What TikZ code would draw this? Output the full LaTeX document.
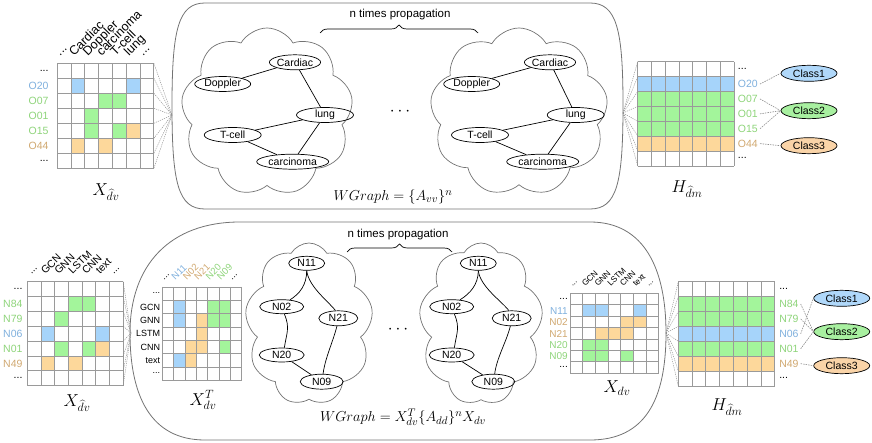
\documentclass[tikz,border=0pt]{standalone}
\usepackage[no-math]{fontspec}
\setmainfont{Liberation Sans}
\usetikzlibrary{shapes.symbols,shapes.geometric,decorations.pathreplacing}
\definecolor{cblue}{HTML}{A6D4FA}
\definecolor{cgreen}{HTML}{A3F59B}
\definecolor{corange}{HTML}{FDD89B}
\definecolor{tblue}{HTML}{7FB0DD}
\definecolor{tgreen}{HTML}{8ED47A}
\definecolor{torange}{HTML}{D0A870}
\definecolor{gridc}{HTML}{9A9A9A}
\definecolor{clsone}{HTML}{B0D8FA}
\definecolor{clstwo}{HTML}{A8F0A0}
\definecolor{clsthree}{HTML}{FAD4A8}
\newcommand\mydots{\raisebox{3.5pt}[0pt][0pt]{...}}
\newcommand\mydotsc{...}
\newcommand\mygridlines{\foreach \i in {0,...,7}{\draw[gridline] (\i,0) -- (\i,7); \draw[gridline] (0,\i) -- (7,\i);}}
\newcommand\cfill[3]{\fill[#1] (#2,#3) rectangle ++(1,1);}
\tikzset{
 gridline/.style={draw=gridc, line width=0.9pt},
 fan/.style={draw=black!45, dash pattern=on 1.2pt off 1pt, line width=0.45pt},
 cdash/.style={draw=black!45, dash pattern=on 1.5pt off 1pt, line width=0.6pt},
 container/.style={draw=black!55, line width=0.8pt},
 cloudshape/.style={cloud, cloud puffs=9, cloud puff arc=120, cloud ignores aspect, draw=black!55, line width=0.7pt, inner sep=0pt},
 gnode/.style={ellipse, draw, line width=0.7pt, inner sep=0pt, minimum height=15pt, font=\fontsize{10.5}{12}\selectfont},
 gedge/.style={line width=0.7pt},
 classnode/.style={ellipse, draw, line width=0.7pt, minimum width=56pt, minimum height=16pt, inner sep=0pt, font=\fontsize{10.5}{12}\selectfont},
 mathlbl/.style={font=\fontsize{18.5}{22}\selectfont, inner sep=0pt},
 eqlbl/.style={font=\fontsize{15}{18}\selectfont, inner sep=0pt},
 proplbl/.style={font=\fontsize{11.5}{14}\selectfont, inner sep=0pt},
 rowlab/.style={anchor=east, inner sep=0pt, text height=7.5pt, text depth=0pt},
 rowlabw/.style={anchor=west, inner sep=0pt, text height=7.5pt, text depth=0pt},
 collab/.style={rotate=45, anchor=base west, inner sep=0pt},
 bracestyle/.style={decorate, decoration={brace, amplitude=8pt}, line width=0.7pt},
}
\begin{document}
\begin{tikzpicture}[x=1pt,y=-1pt]
\useasboundingbox (0,0) rectangle (872,443);

% ---------------- containers ----------------
\draw[container] (205,3) -- (590,3) .. controls (617,3) and (623,30) .. (623,106) .. controls (623,183) and (617,209) .. (590,209) -- (205,209) .. controls (178,209) and (172,183) .. (172,106) .. controls (172,30) and (178,3) .. (205,3) -- cycle;
\draw[container] (240,222) -- (590,222) .. controls (645,222) and (666,270) .. (666,333) .. controls (666,400) and (645,440) .. (590,440) -- (205,440) .. controls (150,440) and (130,395) .. (130,333) .. controls (130,265) and (170,222) .. (240,222) -- cycle;

\coordinate (tlc) at (172,115);
\coordinate (trc) at (623,113);
\coordinate (blc) at (131,333);
\coordinate (brc) at (666,333);

% ---------------- top-left matrix ----------------
\begin{scope}[shift={(57.3,63.3)},x=13.8pt,y=-15pt]
 \cfill{cblue}{1}{1}\cfill{cblue}{5}{1}
 \cfill{cgreen}{3}{2}\cfill{cgreen}{4}{2}\cfill{cgreen}{2}{3}\cfill{cgreen}{2}{4}\cfill{cgreen}{4}{4}
 \cfill{corange}{5}{4}\cfill{corange}{1}{5}\cfill{corange}{3}{5}
 \mygridlines
 \foreach \t/\c [count=\r from 0] in {\mydots/black, O20/tblue, O07/tgreen, O01/tgreen, O15/tgreen, O44/torange, \mydots/black}
   \node[rowlab, text=\c, font=\fontsize{10.5}{12}\selectfont] at (-0.62,\r+0.5) {\t};
 \foreach \t [count=\c from 0] in {\mydotsc, Cardiac, Doppler, carcinoma, T-cell, lung, \mydotsc}
   \node[collab, font=\fontsize{12.5}{14}\selectfont] at (\c+0.2,-0.45) {\t};
 \foreach \i in {0,...,7} \draw[fan] (7,\i) -- (tlc);
\end{scope}
\node[mathlbl] (xl1) at (106,192) {$X_{\widehat{d}v}$};

% ---------------- top-right matrix ----------------
\begin{scope}[shift={(637.7,61.7)},x=13.8pt,y=-14.9pt]
 \fill[cblue] (0,1) rectangle (7,2);
 \fill[cgreen] (0,2) rectangle (7,5);
 \fill[corange] (0,5) rectangle (7,6);
 \mygridlines
 \node[rowlabw, font=\fontsize{10.5}{12}\selectfont] (tD1) at (7.25,0.5) {\mydots};
 \node[rowlabw, text=tblue, font=\fontsize{10.5}{12}\selectfont] (tO20) at (7.25,1.5) {O20};
 \node[rowlabw, text=tgreen, font=\fontsize{10.5}{12}\selectfont] (tO07) at (7.25,2.5) {O07};
 \node[rowlabw, text=tgreen, font=\fontsize{10.5}{12}\selectfont] (tO01) at (7.25,3.5) {O01};
 \node[rowlabw, text=tgreen, font=\fontsize{10.5}{12}\selectfont] (tO15) at (7.25,4.5) {O15};
 \node[rowlabw, text=torange, font=\fontsize{10.5}{12}\selectfont] (tO44) at (7.25,5.5) {O44};
 \node[rowlabw, font=\fontsize{10.5}{12}\selectfont] (tD2) at (7.25,6.5) {\mydots};
 \foreach \i in {0,...,7} \draw[fan] (trc) -- (0,\i);
\end{scope}
\node[mathlbl] (hl1) at (687,189) {$H_{\widehat{d}m}$};
\node[classnode, fill=clsone] (tc1) at (809,73.3) {Class1};
\node[classnode, fill=clstwo] (tc2) at (809,110.7) {Class2};
\node[classnode, fill=clsthree] (tc3) at (809,145.7) {Class3};
\draw[cdash] ([xshift=2pt]tO20.east) -- (tc1.west);
\draw[cdash] ([xshift=2pt]tO07.east) -- (tc2.west);
\draw[cdash] ([xshift=2pt]tO01.east) -- (tc2.west);
\draw[cdash] ([xshift=2pt]tO15.east) -- (tc2.west);
\draw[cdash] ([xshift=2pt]tO44.east) -- (tc3.west);

% ---------------- top graphs ----------------
\node[cloudshape, minimum width=172pt, minimum height=168pt] (cloudA) at (267,112) {};
\node[cloudshape, minimum width=178pt, minimum height=168pt] (cloudB) at (519,112) {};
\node[gnode, minimum width=56pt] (dopA) at (222.7,84) {Doppler};
\node[gnode, minimum width=48pt] (carA) at (295,62.3) {Cardiac};
\node[gnode, minimum width=57pt] (lunA) at (325,115) {lung};
\node[gnode, minimum width=57pt] (tceA) at (232.7,135) {T-cell};
\node[gnode, minimum width=72pt] (crcA) at (292.7,161.7) {carcinoma};
\draw[gedge] (dopA) -- (carA);
\draw[gedge] (carA) -- (lunA);
\draw[gedge] (lunA) -- (tceA);
\draw[gedge] (tceA) -- (crcA);
\draw[gedge] (crcA) -- (lunA);
\node[gnode, minimum width=56pt] (dopB) at (471.7,84) {Doppler};
\node[gnode, minimum width=48pt] (carB) at (550,62.3) {Cardiac};
\node[gnode, minimum width=57pt] (lunB) at (575.7,115) {lung};
\node[gnode, minimum width=57pt] (tceB) at (480,135) {T-cell};
\node[gnode, minimum width=72pt] (crcB) at (542.7,161.7) {carcinoma};
\draw[gedge] (dopB) -- (carB);
\draw[gedge] (carB) -- (lunB);
\draw[gedge] (lunB) -- (tceB);
\draw[gedge] (tceB) -- (crcB);
\draw[gedge] (crcB) -- (lunB);
\node[font=\fontsize{18}{20}\selectfont] (dotsT) at (400,112) {$\cdots$};
\coordinate (braceAs) at (320,33);
\coordinate (braceAe) at (478,33);
\draw[bracestyle] (braceAs) -- (braceAe);
\node[proplbl] (propA) at (400,15) {n times propagation};
\node[eqlbl] (eqA) at (393,197) {$WGraph=\{A_{vv}\}^{n}$};

% ---------------- bottom-left matrix ----------------
\begin{scope}[shift={(27.3,281.7)},x=13.7pt,y=-14.86pt]
 \cfill{cgreen}{3}{1}\cfill{cgreen}{4}{1}\cfill{cgreen}{2}{2}\cfill{cgreen}{2}{4}\cfill{cgreen}{4}{4}
 \cfill{cblue}{1}{3}\cfill{cblue}{5}{3}
 \cfill{corange}{5}{4}\cfill{corange}{1}{5}\cfill{corange}{3}{5}
 \mygridlines
 \foreach \t/\c [count=\r from 0] in {\mydots/black, N84/tgreen, N79/tgreen, N06/tblue, N01/tgreen, N49/torange, \mydots/black}
   \node[rowlab, text=\c, font=\fontsize{10.5}{12}\selectfont] at (-0.34,\r+0.5) {\t};
 \foreach \t [count=\c from 0] in {\mydotsc, GCN, GNN, LSTM, CNN, text, \mydotsc}
   \node[collab, font=\fontsize{10.5}{12}\selectfont] at (\c+0.3,-0.45) {\t};
 \foreach \i in {0,...,7} \draw[fan] (7,\i) -- (blc);
\end{scope}
\node[mathlbl] (xl2) at (77,403) {$X_{\widehat{d}v}$};

% ---------------- X^T matrix ----------------
\begin{scope}[shift={(162.3,287)},x=11.34pt,y=-13.33pt]
 \cfill{cblue}{1}{1}\cfill{cblue}{1}{2}\cfill{cblue}{1}{5}
 \cfill{cgreen}{4}{1}\cfill{cgreen}{5}{1}\cfill{cgreen}{4}{2}\cfill{cgreen}{5}{2}\cfill{cgreen}{5}{4}
 \cfill{corange}{3}{2}\cfill{corange}{3}{3}\cfill{corange}{2}{4}\cfill{corange}{3}{4}\cfill{corange}{2}{5}
 \mygridlines
 \foreach \t [count=\r from 0] in {\mydots, GCN, GNN, LSTM, CNN, text, \mydots}
   \node[rowlab, font=\fontsize{9}{10}\selectfont, text height=6.5pt] at (-0.18,\r+0.5) {\t};
 \foreach \t/\c [count=\k from 0] in {\mydotsc/black, N11/tblue, N02/torange, N21/torange, N20/tgreen, N09/tgreen, \mydotsc/black}
   \node[collab, text=\c, font=\fontsize{9.5}{11}\selectfont] at (\k+0.15,-0.5) {\t};
\end{scope}
\node[mathlbl] (xtl) at (203,400) {$X_{dv}^{T}$};

% ---------------- bottom graphs ----------------
\node[cloudshape, minimum width=128pt, minimum height=162pt] (cloudC) at (309,324) {};
\node[cloudshape, minimum width=124pt, minimum height=162pt] (cloudD) at (481,324) {};
\node[gnode, minimum width=36pt, minimum height=14pt] (n11A) at (306.7,263.3) {N11};
\node[gnode, minimum width=44pt, minimum height=14pt] (n02A) at (281.7,306.7) {N02};
\node[gnode, minimum width=39pt, minimum height=15pt] (n21A) at (338.3,318.3) {N21};
\node[gnode, minimum width=45pt, minimum height=14pt] (n20A) at (281.7,355) {N20};
\node[gnode, minimum width=43pt, minimum height=15pt] (n09A) at (321.7,381.7) {N09};
\draw[gedge] (n11A.south) .. controls +(0,14) and +(10,-6) .. (n02A.40);
\draw[gedge] (n11A.south) .. controls +(2,16) and +(-8,-10) .. (n21A.110);
\draw[gedge] (n02A.-70) .. controls +(6,14) and +(2,-14) .. (n20A.70);
\draw[gedge] (n21A.-100) .. controls +(-4,16) and +(2,-16) .. (n09A.80);
\draw[gedge] (n20A) -- (n09A);
\node[gnode, minimum width=36pt, minimum height=14pt] (n11B) at (478.3,263.3) {N11};
\node[gnode, minimum width=44pt, minimum height=14pt] (n02B) at (451.7,306.7) {N02};
\node[gnode, minimum width=39pt, minimum height=15pt] (n21B) at (511.7,318.3) {N21};
\node[gnode, minimum width=45pt, minimum height=14pt] (n20B) at (451.7,355) {N20};
\node[gnode, minimum width=43pt, minimum height=15pt] (n09B) at (493.3,381.7) {N09};
\draw[gedge] (n11B.south) .. controls +(0,14) and +(10,-6) .. (n02B.40);
\draw[gedge] (n11B.south) .. controls +(2,16) and +(-8,-10) .. (n21B.110);
\draw[gedge] (n02B.-70) .. controls +(6,14) and +(2,-14) .. (n20B.70);
\draw[gedge] (n21B.-100) .. controls +(-4,16) and +(2,-16) .. (n09B.80);
\draw[gedge] (n20B) -- (n09B);
\node[font=\fontsize{18}{20}\selectfont] (dotsB) at (398,330) {$\cdots$};
\coordinate (braceBs) at (347,252);
\coordinate (braceBe) at (452,252);
\draw[bracestyle] (braceBs) -- (braceBe);
\node[proplbl] (propB) at (398,235) {n times propagation};
\node[eqlbl] (eqB) at (403,417) {$WGraph=X_{dv}^{T}\{A_{dd}\}^{n}X_{dv}$};

% ---------------- X_dv matrix ----------------
\begin{scope}[shift={(570,293.3)},x=12.7pt,y=-11.43pt]
 \cfill{cblue}{1}{1}\cfill{cblue}{2}{1}\cfill{cblue}{5}{1}
 \cfill{corange}{4}{2}\cfill{corange}{5}{2}\cfill{corange}{2}{3}\cfill{corange}{3}{3}\cfill{corange}{4}{3}
 \cfill{cgreen}{1}{4}\cfill{cgreen}{2}{4}\cfill{cgreen}{1}{5}\cfill{cgreen}{2}{5}\cfill{cgreen}{4}{5}
 \mygridlines
 \foreach \t/\c [count=\r from 0] in {\mydots/black, N11/tblue, N02/torange, N21/torange, N20/tgreen, N09/tgreen, \mydots/black}
   \node[rowlab, text=\c, font=\fontsize{10}{12}\selectfont] at (-0.16,\r+0.5) {\t};
 \foreach \t [count=\k from 0] in {\mydotsc, GCN, GNN, LSTM, CNN, text, \mydotsc}
   \node[collab, font=\fontsize{8.3}{10}\selectfont] at (\k+0.2,-0.55) {\t};
\end{scope}
\node[mathlbl] (xl3) at (617,388) {$X_{dv}$};

% ---------------- bottom-right matrix ----------------
\begin{scope}[shift={(678.3,281.7)},x=13.8pt,y=-14.9pt]
 \fill[cgreen] (0,1) rectangle (7,3);
 \fill[cblue] (0,3) rectangle (7,4);
 \fill[cgreen] (0,4) rectangle (7,5);
 \fill[corange] (0,5) rectangle (7,6);
 \mygridlines
 \node[rowlabw, font=\fontsize{10.5}{12}\selectfont] (bD1) at (7.3,0.5) {\mydots};
 \node[rowlabw, text=tgreen, font=\fontsize{10.5}{12}\selectfont] (bN84) at (7.3,1.5) {N84};
 \node[rowlabw, text=tgreen, font=\fontsize{10.5}{12}\selectfont] (bN79) at (7.3,2.5) {N79};
 \node[rowlabw, text=tblue, font=\fontsize{10.5}{12}\selectfont] (bN06) at (7.3,3.5) {N06};
 \node[rowlabw, text=tgreen, font=\fontsize{10.5}{12}\selectfont] (bN01) at (7.3,4.5) {N01};
 \node[rowlabw, text=torange, font=\fontsize{10.5}{12}\selectfont] (bN49) at (7.3,5.5) {N49};
 \node[rowlabw, font=\fontsize{10.5}{12}\selectfont] (bD2) at (7.3,6.5) {\mydots};
 \foreach \i in {0,...,7} \draw[fan] (brc) -- (0,\i);
\end{scope}
\node[mathlbl] (hl2) at (727,407) {$H_{\widehat{d}m}$};
\node[classnode, fill=clsone] (bc1) at (841.7,298.3) {Class1};
\node[classnode, fill=clstwo] (bc2) at (841.7,331.7) {Class2};
\node[classnode, fill=clsthree] (bc3) at (841.7,365.7) {Class3};
\draw[cdash] ([xshift=2pt]bN84.east) -- (bc2.west);
\draw[cdash] ([xshift=2pt]bN79.east) -- (bc2.west);
\draw[cdash] ([xshift=2pt]bN06.east) -- (bc1.west);
\draw[cdash] ([xshift=2pt]bN01.east) -- (bc2.west);
\draw[cdash] ([xshift=2pt]bN49.east) -- (bc3.west);
\end{tikzpicture}
\end{document}
